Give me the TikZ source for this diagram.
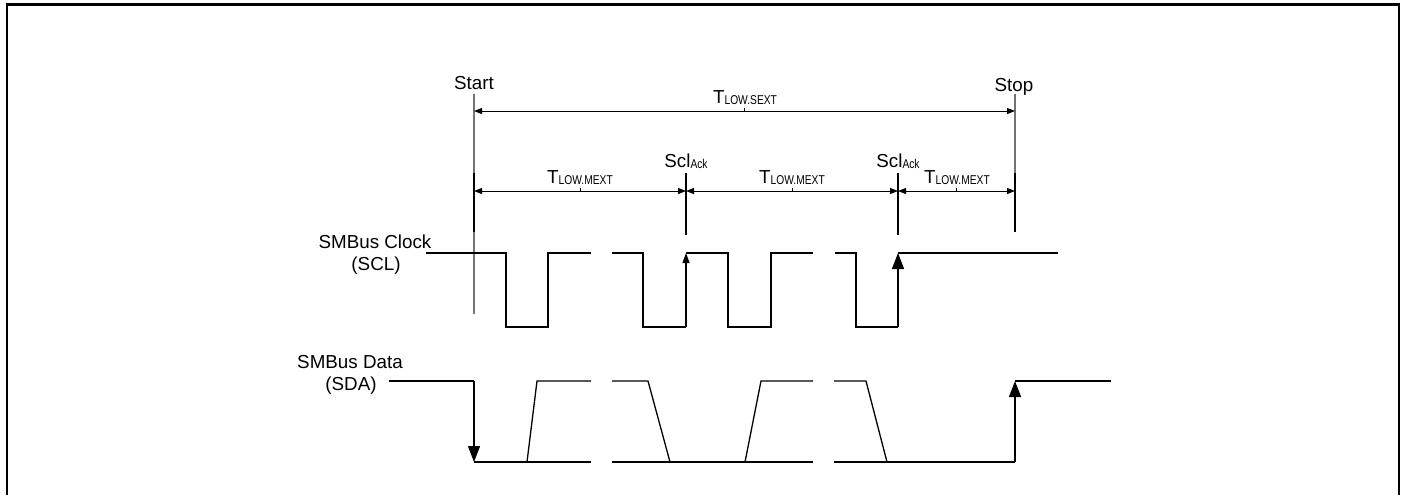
\documentclass[tikz,border=0pt]{standalone}
\usepackage{fontspec}
\setmainfont{Liberation Sans}
\usepackage{graphicx}
\usetikzlibrary{arrows.meta,calc,positioning}
\newcommand{\lo}[1]{\raisebox{-0.6pt}{\scalebox{0.8}[1]{\fontsize{6.4}{7}\selectfont #1}}}

\begin{document}
\begin{tikzpicture}[x=0.5pt, y=-0.5pt,
    txt/.style={inner sep=0pt, anchor=base, font=\fontsize{9.4}{11}\selectfont},
    marker/.style={draw=black!55, line width=0.6pt},
    ackline/.style={line width=0.6pt},
    dim/.style={line width=0.5pt, {Triangle[length=4pt,width=3pt]}-{Triangle[length=4pt,width=3pt]}},
    tick/.style={line width=0.5pt},
    wave/.style={line width=0.65pt},
    edge/.style={line width=0.65pt, -{Triangle[length=8pt,width=6pt]}},
    smalledge/.style={line width=0.65pt, -{Triangle[length=5pt,width=3.5pt]}},
    frame/.style={line width=1.3pt}
]
\useasboundingbox (0,0) rectangle (1401,495);
\draw[frame] (7,495) -- (7,4.3) -- (1398.8,4.3) -- (1398.8,495);

\node[txt] (start) at (474,89) {Start};
\node[txt] (stop) at (1014,91) {Stop};

\coordinate (startTop) at (474,94);
\coordinate (startBot) at (474,314);
\coordinate (stopTop) at (1015,94);
\coordinate (stopBot) at (1015,232);
\draw[marker] (startTop) -- (startBot);
\draw[marker] (stopTop) -- (stopBot);

\coordinate (s0) at (474,111);
\coordinate (s1) at (1015,111);
\draw[dim] (s0) -- (s1);
\draw[tick] ($(s0)!0.5!(s1)$) -- ++(0,-3);
\node[txt] (sext) at (745,103) {T\lo{LOW.SEXT}};

\coordinate (a0) at (474,191);
\coordinate (a1) at (686,191);
\coordinate (a2) at (898,191);
\coordinate (a3) at (1015,191);
\draw[ackline] (474,173) -- (474,232);
\draw[ackline] (1015,173) -- (1015,232);
\draw[ackline] (686,173) -- (686,235);
\draw[ackline] (898,173) -- (898,235);
\node[txt] (ack1) at (686,167) {Scl\lo{Ack}};
\node[txt] (ack2) at (898,167) {Scl\lo{Ack}};

\draw[dim] (a0) -- (a1);
\draw[dim] (a1) -- (a2);
\draw[dim] (a2) -- (a3);
\draw[tick] ($(a0)!0.5!(a1)$) -- ++(0,-3);
\draw[tick] ($(a1)!0.5!(a2)$) -- ++(0,-3);
\draw[tick] ($(a2)!0.5!(a3)$) -- ++(0,-3);
\node[txt] (mext1) at (580,183) {T\lo{LOW.MEXT}};
\node[txt] (mext2) at (792,183) {T\lo{LOW.MEXT}};
\node[txt] (mext3) at (957,183) {T\lo{LOW.MEXT}};

\node[txt] (sclName) at (375,248) {SMBus Clock};
\node[txt] (sclAbbr) at (376,270) {(SCL)};
\node[txt] (sdaName) at (350,368) {SMBus Data};
\node[txt] (sdaAbbr) at (351,390) {(SDA)};

\draw[wave] (426,253) -- (506,253) -- (506,327) -- (548,327) -- (548,253) -- (591,253);
\draw[wave] (612,253) -- (643,253) -- (643,327) -- (686,327);
\draw[smalledge] (686,327) -- (686,253);
\draw[wave] (686,253) -- (728,253) -- (728,327) -- (771,327) -- (771,253) -- (813,253);
\draw[wave] (835,253) -- (856,253) -- (856,327) -- (898,327);
\draw[edge] (898,327) -- (898,253);
\draw[wave] (898,253) -- (1058,253);

\draw[wave] (389,381) -- (474,381);
\draw[edge] (474,381) -- (474,462);
\draw[wave] (474,462) -- (591,462);
\draw[wave] (527,462) -- (537,381) -- (591,381);
\draw[wave] (612,381) -- (648,381) -- (670,462);
\draw[wave] (612,462) -- (813,462);
\draw[wave] (745,462) -- (761,381) -- (813,381);
\draw[wave] (834,381) -- (866,381) -- (887,462);
\draw[wave] (834,462) -- (1015,462);
\draw[edge] (1015,462) -- (1015,381);
\draw[wave] (1015,381) -- (1111,381);

\end{tikzpicture}
\end{document}
